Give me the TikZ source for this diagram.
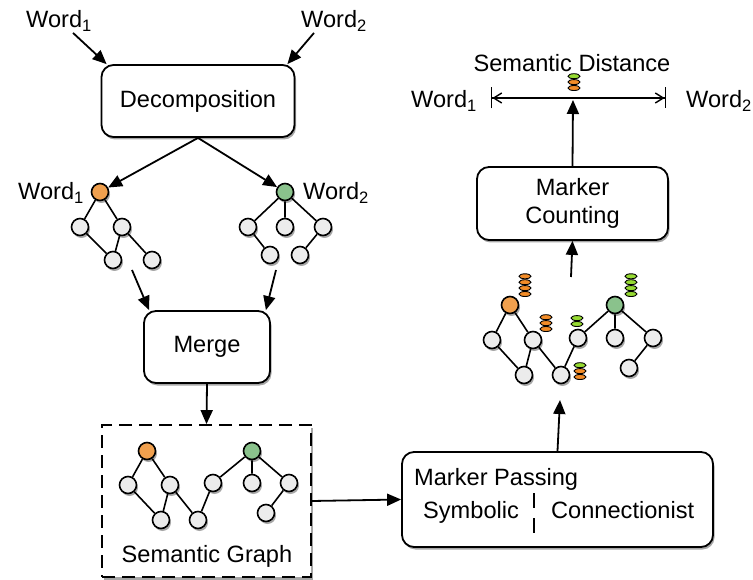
\documentclass[tikz,border=0pt]{standalone}
\usepackage{fontspec}
\setmainfont{Liberation Sans}
\usepackage{tikz}
\usetikzlibrary{positioning, arrows.meta, shapes.geometric, shadows}
\definecolor{rootorange}{RGB}{240,160,78}
\definecolor{rootgreen}{RGB}{138,194,140}
\definecolor{mkorange}{RGB}{242,140,40}
\definecolor{mkgreen}{RGB}{150,218,50}
\definecolor{vertgray}{RGB}{236,236,236}

\begin{document}
\begin{tikzpicture}[
  x=1pt, y=-1pt,
  every node/.style={font=\fontsize{23.6}{28}\selectfont},
  shadowed/.style={drop shadow={shadow xshift=1.5pt, shadow yshift=-2.5pt, fill=black, opacity=0.35}},
  box/.style={
    draw, rounded corners=12pt, fill=white,
    line width=1.8pt, align=center, shadowed
  },
  lbl/.style={inner sep=1pt},
  vert/.style={circle, draw, fill=vertgray, line width=1.6pt, minimum size=17pt, inner sep=0pt, shadowed},
  mk/.style={ellipse, draw, line width=0.9pt, minimum width=12pt, minimum height=5pt, inner sep=0pt},
  edge/.style={line width=1.6pt},
  arrow/.style={-{Triangle[length=14pt,width=12pt]}, line width=1.8pt},
  dist/.style={{Bar[width=21pt]Straight Barb[length=8pt,width=10pt]}-{Straight Barb[length=8pt,width=10pt]Bar[width=21pt]}, line width=1.4pt},
]
\useasboundingbox (0,0) rectangle (753,580);

% Input words
\node[lbl, anchor=base west] (w1) at (25,28) {Word\textsubscript{1}};
\node[lbl, anchor=base west] (w2) at (300,28) {Word\textsubscript{2}};

% Decomposition
\node[box, minimum width=193pt, minimum height=72pt] (dec) at (198,101) {Decomposition};
\draw[arrow] ([xshift=-20pt]w1.south east) -- ([xshift=6pt]dec.north west);
\draw[arrow] ([xshift=14pt]w2.south west) -- ([xshift=-8pt]dec.north east);

% Word trees
\node[vert, fill=rootorange] (la) at (100,192) {};
\node[vert] (lb) at (80,227) {};
\node[vert] (lc) at (122,227) {};
\node[vert] (ld) at (113,260) {};
\node[vert] (le) at (152,260) {};
\node[vert, fill=rootgreen] (ra) at (285,192) {};
\node[vert] (rb) at (248,227) {};
\node[vert] (rc) at (285,227) {};
\node[vert] (rd) at (323,227) {};
\node[vert] (re) at (270,255) {};
\node[vert] (rf) at (300,255) {};
\draw[edge] (la) -- (lb) (la) -- (lc) (lb) -- (ld) (lc) -- (ld) (lc) -- (le);
\draw[edge] (ra) -- (rb) (ra) -- (rc) (ra) -- (rd) (rb) -- (re) (rd) -- (rf);
\node[lbl, anchor=base west] (lw) at (17,200) {Word\textsubscript{1}};
\node[lbl, anchor=base west] (rw) at (302,200) {Word\textsubscript{2}};
\draw[arrow] (dec.south) -- (la);
\draw[arrow] (dec.south) -- (ra);

% Merge
\node[box, minimum width=126pt, minimum height=72pt] (mrg) at (207,347) {Merge};
\coordinate (lt) at (132,270);
\coordinate (rt) at (276,270);
\draw[arrow] (lt) -- ([xshift=6pt]mrg.north west);
\draw[arrow] (rt) -- ([xshift=-5pt]mrg.north east);

% Semantic graph
\node[draw, dash pattern=on 13pt off 7pt, line width=1.8pt, fill=white,
  minimum width=209pt, minimum height=152pt, shadowed] (semg) at (206.5,501) {};
\draw[arrow] (mrg.south) -- (semg.north);
\node[vert, fill=rootorange] (sa) at (147,451) {};
\node[vert] (sb) at (128,485) {};
\node[vert] (sc) at (170,485) {};
\node[vert] (sd) at (161,520) {};
\node[vert] (se) at (198,520) {};
\node[vert] (sf) at (213,483) {};
\node[vert, fill=rootgreen] (sg) at (252,451) {};
\node[vert] (sh) at (252,483) {};
\node[vert] (si) at (289,483) {};
\node[vert] (sj) at (266,513) {};
\draw[edge] (sa) -- (sb) (sa) -- (sc) (sb) -- (sd) (sc) -- (sd) (sc) -- (se)
  (se) -- (sf) (sf) -- (sg) (sg) -- (sh) (sg) -- (si) (si) -- (sj);
\node[lbl, anchor=base] (semlbl) at (207,562) {Semantic Graph};

% Marker passing
\node[box, minimum width=311pt, minimum height=95pt] (mp) at (557.5,499.5) {};
\node[lbl, anchor=base west] (mptitle) at (413,485) {Marker Passing};
\node[lbl, anchor=base west] (sym) at (422,518) {Symbolic};
\node[lbl, anchor=base west] (con) at (550,518) {Connectionist};
\draw[line width=1.3pt, dash pattern=on 15pt off 10pt] (534,493) -- (534,535);
\draw[arrow] (semg.east) -- (mp.west);

% Marked graph
\node[vert, fill=rootorange] (ma) at (510,305) {};
\node[vert] (mb) at (492,340) {};
\node[vert] (mc) at (533,340) {};
\node[vert] (md) at (524,375) {};
\node[vert] (me) at (561,375) {};
\node[vert] (mf) at (578,338) {};
\node[vert, fill=rootgreen] (mg) at (615,305) {};
\node[vert] (mh) at (615,338) {};
\node[vert] (mi) at (653,338) {};
\node[vert] (mj) at (629,368) {};
\draw[edge] (ma) -- (mb) (ma) -- (mc) (mb) -- (md) (mc) -- (md) (mc) -- (me)
  (me) -- (mf) (mf) -- (mg) (mg) -- (mh) (mg) -- (mi) (mi) -- (mj);
\coordinate (mtop) at (560,400);
\draw[arrow] (mp.north) -- (mtop);

% Marker stacks
\node[mk, fill=mkorange] (m1a) at (525,294) {};
\node[mk, fill=mkorange, above=0pt of m1a] (m1b) {};
\node[mk, fill=mkorange, above=0pt of m1b] (m1c) {};
\node[mk, fill=mkorange, above=0pt of m1c] (m1d) {};
\node[mk, fill=mkorange] (m2a) at (546,329) {};
\node[mk, fill=mkorange, above=0pt of m2a] (m2b) {};
\node[mk, fill=mkorange, above=0pt of m2b] (m2c) {};
\node[mk, fill=mkgreen] (m3a) at (577,324) {};
\node[mk, fill=mkgreen, above=0pt of m3a] (m3b) {};
\node[mk, fill=mkgreen] (m4a) at (631,294) {};
\node[mk, fill=mkgreen, above=0pt of m4a] (m4b) {};
\node[mk, fill=mkgreen, above=0pt of m4b] (m4c) {};
\node[mk, fill=mkgreen, above=0pt of m4c] (m4d) {};
\node[mk, fill=mkorange] (m5a) at (580,377) {};
\node[mk, fill=mkorange, above=0pt of m5a] (m5b) {};
\node[mk, fill=mkgreen, above=0pt of m5b] (m5c) {};

% Marker counting
\coordinate (mbot) at (571,277);
\node[box, minimum width=191pt, minimum height=73pt] (cnt) at (572.5,203.5) {Marker\\Counting};
\draw[arrow] (mbot) -- (cnt.south);

% Semantic distance
\node[lbl, anchor=base] (sdist) at (572,72) {Semantic Distance};
\node[lbl, anchor=base west] (dw1) at (410,108) {Word\textsubscript{1}};
\node[lbl, anchor=base west] (dw2) at (685,108) {Word\textsubscript{2}};
\draw[dist] ([xshift=13pt,yshift=10pt]dw1.base east) -- ([xshift=-19pt,yshift=10pt]dw2.base west);
\coordinate (dm) at (573,100);
\draw[arrow] (cnt.north) -- (dm);
\node[mk, fill=mkorange] (m6a) at (574,88) {};
\node[mk, fill=mkorange, above=0pt of m6a] (m6b) {};
\node[mk, fill=mkgreen, above=0pt of m6b] (m6c) {};

\end{tikzpicture}
\end{document}
